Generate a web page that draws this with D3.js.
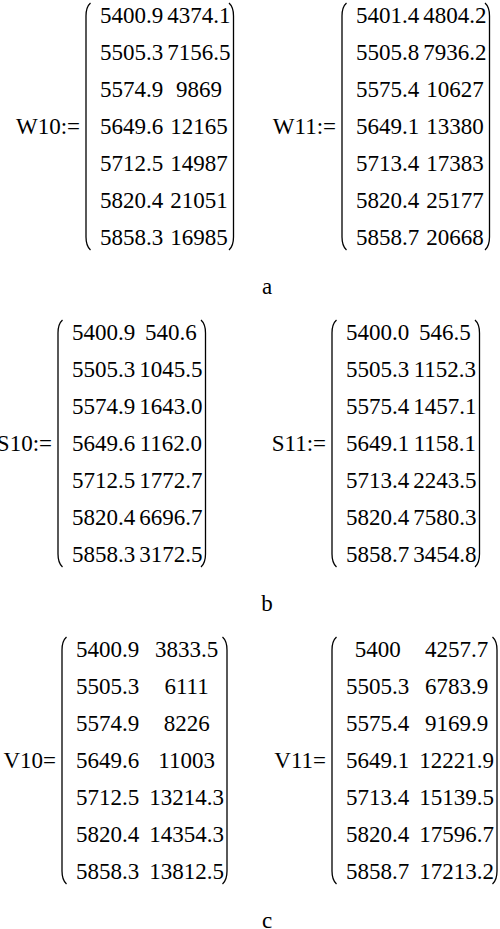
<!DOCTYPE html>
<html>
<head>
<meta charset="utf-8">
<script src="https://cdn.jsdelivr.net/npm/d3@7"></script>
<style>
  html, body { margin: 0; padding: 0; background: #fff; }
  svg { display: block; }
</style>
</head>
<body>
<svg id="chart" width="500" height="929"></svg>
<script>
// matrix contents, copied as printed (strings keep the trailing ".0" etc.)
const W10 = [["5400.9", "4374.1"], ["5505.3", "7156.5"], ["5574.9", "9869"], ["5649.6", "12165"],
  ["5712.5", "14987"], ["5820.4", "21051"], ["5858.3", "16985"]];
const W11 = [["5401.4", "4804.2"], ["5505.8", "7936.2"], ["5575.4", "10627"], ["5649.1", "13380"],
  ["5713.4", "17383"], ["5820.4", "25177"], ["5858.7", "20668"]];
const S10 = [["5400.9", "540.6"], ["5505.3", "1045.5"], ["5574.9", "1643.0"], ["5649.6", "1162.0"],
  ["5712.5", "1772.7"], ["5820.4", "6696.7"], ["5858.3", "3172.5"]];
const S11 = [["5400.0", "546.5"], ["5505.3", "1152.3"], ["5575.4", "1457.1"], ["5649.1", "1158.1"],
  ["5713.4", "2243.5"], ["5820.4", "7580.3"], ["5858.7", "3454.8"]];
const V10 = [["5400.9", "3833.5"], ["5505.3", "6111"], ["5574.9", "8226"], ["5649.6", "11003"],
  ["5712.5", "13214.3"], ["5820.4", "14354.3"], ["5858.3", "13812.5"]];
const V11 = [["5400", "4257.7"], ["5505.3", "6783.9"], ["5575.4", "9169.9"], ["5649.1", "12221.9"],
  ["5713.4", "15139.5"], ["5820.4", "17596.7"], ["5858.7", "17213.2"]];

const matrixNames = ["W10", "W11", "S10", "S11", "V10", "V11"];
const matrixOps = [":=", ":=", ":=", ":=", "=", "="];
const matrixValues = [W10, W11, S10, S11, V10, V11];
const captions = ["a", "b", "c"];

// layout
const fontSize = 23;
const font = "'Liberation Serif', 'Times New Roman', serif";
const parenX = [86, 342, 58, 332, 62, 332]; // left bracket of each matrix
const colGap = [4, 4, 4, 4, 10, 10];
const padL = 14, padR = 3;

const svg = d3.select("#chart");

const sectionY = d3.scaleLinear().domain([0, 2]).range([23, 657]); // first baseline of each block
const rowY = d3.scaleLinear().domain([0, 6]).range([0, 222]);

// text width helper
const probe = svg.append("text").attr("font-family", font).attr("font-size", fontSize)
  .attr("visibility", "hidden");
function textWidth(s) {
  probe.text(s);
  return probe.node().getComputedTextLength();
}

function bracket(x, top, bottom, dir) {
  // dir = 1 for "(", -1 for ")"
  const p = d3.path();
  const c = 13, w = 4.5;
  p.moveTo(x + dir * w, top);
  p.quadraticCurveTo(x, top + 4, x, top + c);
  p.lineTo(x, bottom - c);
  p.quadraticCurveTo(x, bottom - 4, x + dir * w, bottom);
  return p.toString();
}

matrixNames.forEach((name, i) => {
  const rows = matrixValues[i];
  const y0 = sectionY(Math.floor(i / 2));
  const g = svg.append("g").attr("font-family", font).attr("font-size", fontSize).attr("fill", "#000");

  const w1 = d3.max(rows, (r) => textWidth(r[0]));
  const w2 = d3.max(rows, (r) => textWidth(r[1]));
  const x0 = parenX[i];
  const c1 = x0 + padL + w1 / 2;
  const c2 = x0 + padL + w1 + colGap[i] + w2 / 2;
  const xr = x0 + padL + w1 + colGap[i] + w2 + padR;

  const top = y0 - 20;
  const bottom = y0 + rowY(6) + 5;

  g.append("text")
    .attr("x", x0 - 6)
    .attr("y", y0 + rowY(3))
    .attr("text-anchor", "end")
    .text(name + matrixOps[i]);

  g.selectAll("text.c1").data(rows).join("text")
    .attr("class", "c1")
    .attr("x", c1)
    .attr("y", (d, j) => y0 + rowY(j))
    .attr("text-anchor", "middle")
    .text((d) => d[0]);

  g.selectAll("text.c2").data(rows).join("text")
    .attr("class", "c2")
    .attr("x", c2)
    .attr("y", (d, j) => y0 + rowY(j))
    .attr("text-anchor", "middle")
    .text((d) => d[1]);

  g.append("path").attr("d", bracket(x0, top, bottom, 1))
    .attr("fill", "none").attr("stroke", "#000").attr("stroke-width", 1.3);
  g.append("path").attr("d", bracket(xr, top, bottom, -1))
    .attr("fill", "none").attr("stroke", "#000").attr("stroke-width", 1.3);
});

svg.selectAll("text.caption").data(captions).join("text")
  .attr("class", "caption")
  .attr("x", 267)
  .attr("y", (d, i) => sectionY(i) + 271)
  .attr("text-anchor", "middle")
  .attr("font-family", font)
  .attr("font-size", fontSize)
  .text((d) => d);

probe.remove();
</script>
</body>
</html>
